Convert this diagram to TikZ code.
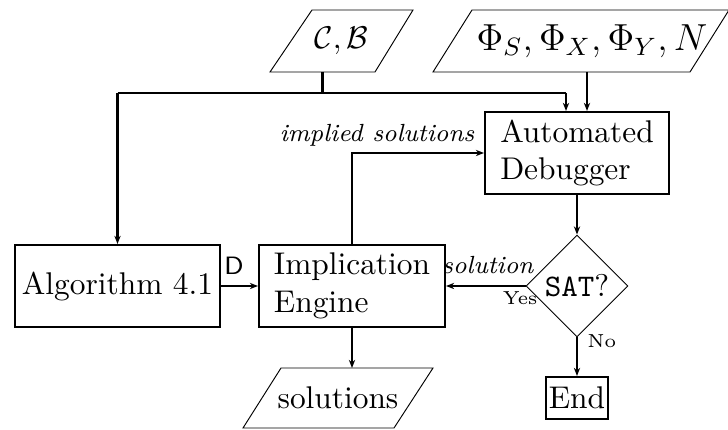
\documentclass[tikz,border=0pt]{standalone}
\usetikzlibrary{shapes.geometric,arrows.meta,calc}
% one drawing unit of the layout grid
\newcommand{\pxu}{0.3185pt}
\begin{document}
\begin{tikzpicture}[x=0.3185pt,y=-0.3185pt,
  block/.style={draw,line width=0.66pt,minimum height=82*\pxu,inner sep=0pt},
  decide/.style={draw,line width=0.3pt,diamond,minimum width=102*\pxu,
    minimum height=102*\pxu,inner sep=0pt},
  slanted/.style={draw,line width=0.3pt},
  flow/.style={line width=0.66pt,-{Stealth[length=2.6pt,width=2pt]}},
  wire/.style={line width=0.66pt},
  lbl/.style={font=\fontsize{7.9}{9}\selectfont\itshape,inner sep=0pt},
  small/.style={font=\fontsize{6}{7}\selectfont,inner sep=0pt}]
\useasboundingbox (0,0) rectangle (728,430);

% input / output parallelograms
\draw[slanted] (270,72) -- (312,10) -- (413,10) -- (375,72) -- cycle;
\node (cb) at (341.5,41) {$\mathcal{C},\mathcal{B}$};
\draw[slanted] (433,72) -- (472,10) -- (729,10) -- (690,72) -- cycle;
\node[font=\fontsize{12}{14}\selectfont] (phi) at (592,41) {$\Phi_S,\Phi_X,\Phi_Y,N$};
\draw[slanted] (243,428) -- (281,368) -- (433,368) -- (394,428) -- cycle;
\node (sol) at (338,398) {solutions};
\coordinate (cbout) at (322.5,72);
\coordinate (phiout) at (587,72);
\coordinate (solin) at (352,368);

% processing blocks
\node[block,minimum width=205*\pxu] (alg) at (117.5,286) {Algorithm 4.1};
\node[block,minimum width=186*\pxu,align=left] (eng) at (352,286) {Implication\\Engine};
\node[block,minimum width=184*\pxu,align=left] (dbg) at (577,153) {Automated\\Debugger};
\node[decide] (sat) at (577,286) {\texttt{SAT}?};
\node[draw,line width=0.66pt,minimum width=62*\pxu,minimum height=42*\pxu,inner sep=0pt] (end) at (577,398) {End};

% top bus
\coordinate (busl) at (alg.north |- 0,93);
\coordinate (busm) at (cbout |- 0,93);
\coordinate (busr) at (566,93);
\coordinate (dbgl) at (dbg.north -| busr);
\coordinate (dbgr) at (dbg.north -| phiout);

% connectors
\draw[wire] (cbout) -- (busm);
\draw[flow] (busl) -- (alg.north);
\draw[wire] (busl) -- (busr);
\draw[flow] (busr) -- (dbgl);
\draw[flow] (phiout) -- (dbgr);

\draw[flow] (alg.east) -- (eng.west);
\node[font=\fontsize{8}{9}\sffamily,inner sep=0pt,anchor=base] at (234,275) {D};
\draw[flow] (eng.north) |- (dbg.west);
\node[lbl,anchor=base east] at (475,142) {implied solutions};
\draw[flow] (dbg.south) -- (sat.north);
\draw[flow] (sat.west) -- (eng.east);
\node[lbl,anchor=base east] at (534,274) {solution};
\node[small,anchor=north east] at (538,291) {Yes};
\draw[flow] (sat.south) -- (end.north);
\node[small,anchor=north west] at (587,334) {No};
\draw[flow] (eng.south) -- (solin);
\end{tikzpicture}
\end{document}
